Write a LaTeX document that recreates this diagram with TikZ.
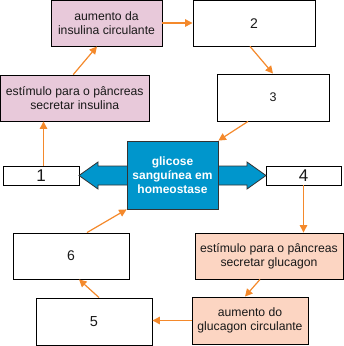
\documentclass[tikz,border=0pt]{standalone}
\usepackage{fontspec}
\setmainfont{Liberation Sans}
\usetikzlibrary{arrows.meta}
\definecolor{pinkfill}{HTML}{E8C9DA}
\definecolor{salmonfill}{HTML}{FCD5C2}
\definecolor{bluefill}{HTML}{0096CC}
\definecolor{arroworange}{HTML}{F4892B}
\definecolor{outlinegray}{HTML}{333333}
\tikzset{
  boxbase/.style={draw=black, line width=0.9pt, inner sep=0pt, align=center,
    font=\fontsize{12.2}{14.2}\selectfont, text=black!90},
  pinkbox/.style={boxbase, fill=pinkfill},
  salmonbox/.style={boxbase, fill=salmonfill},
  whitebox/.style={boxbase, fill=white},
  bluebox/.style={draw=outlinegray, line width=0.8pt, fill=bluefill, inner sep=0pt,
    align=center, text=white, font=\bfseries\fontsize{12}{14}\selectfont},
  flow/.style={draw=arroworange, line width=1.2pt,
    -{Triangle[length=7.5pt,width=7.5pt,fill=arroworange]}},
}
\newcommand{\boxat}[6]{%
  \node[#1, minimum width=#4-#2, minimum height=#5-#3] (#6) at ({(#2+#4)/2},{(#3+#5)/2})}
\begin{document}
\begin{tikzpicture}[x=1pt,y=-1pt]
\useasboundingbox (0,0) rectangle (344,346);
% boxes
\boxat{pinkbox}{51}{0.5}{162}{46}{ains} {aumento da\\insulina circulante};
\boxat{whitebox}{193}{0.5}{315}{46}{b2} {\fontsize{14}{16}\selectfont 2};
\boxat{whitebox}{217}{74}{329}{121}{b3} {\fontsize{12.5}{14}\selectfont 3};
\boxat{pinkbox}{0.5}{75}{149}{121}{eins} {estímulo para o pâncreas\\secretar insulina};
\boxat{whitebox}{3}{166}{79}{185}{b1} {\fontsize{17}{18}\selectfont 1};
\boxat{whitebox}{266}{166}{341}{185}{b4} {\fontsize{17}{18}\selectfont 4};
% double arrow
\fill[bluefill, draw=outlinegray, line width=0.8pt]
  (79,175.5) -- (98,162) -- (98,166) -- (247,166) -- (247,162) -- (266,175.5)
  -- (247,189) -- (247,185) -- (98,185) -- (98,189) -- cycle;
\boxat{bluebox}{127}{141}{218}{209}{gl} {glicose\\sanguínea em\\homeostase};
\boxat{whitebox}{13}{233}{129}{279}{b6} {\fontsize{14}{16}\selectfont 6};
\boxat{salmonbox}{195}{233}{343}{279}{eglu} {estímulo para o pâncreas\\secretar glucagon};
\boxat{whitebox}{36}{298}{152}{345.5}{b5} {\fontsize{14.5}{16}\selectfont 5};
\boxat{salmonbox}{192}{297}{308}{344}{aglu} {aumento do\\glucagon circulante};
% connectors
\draw[flow] ([xshift=-1.5pt]eins.north) -- ([xshift=-9.5pt]ains.south);
\draw[flow] ([yshift=0.25pt]ains.east) -- ([yshift=0.25pt]b2.west);
\draw[flow] ([xshift=-4pt]b2.south) -- (b3.north);
\draw[flow] ([xshift=-25pt]b3.south) -- (gl.north east);
\draw[flow] ([xshift=2.5pt]b1.north) -- ([xshift=2.5pt]b1.north |- eins.south);
\draw[flow] (b4.south) -- (b4.south |- eglu.north);
\draw[flow] ([xshift=-9pt]eglu.south) -- ([xshift=-5pt]aglu.north);
\draw[flow] (aglu.west) -- (aglu.west -| b5.east);
\draw[flow] ([xshift=5pt]b5.north) -- ([xshift=8pt]b6.south);
\draw[flow] ([xshift=16pt]b6.north) -- (gl.south west);
\end{tikzpicture}
\end{document}
